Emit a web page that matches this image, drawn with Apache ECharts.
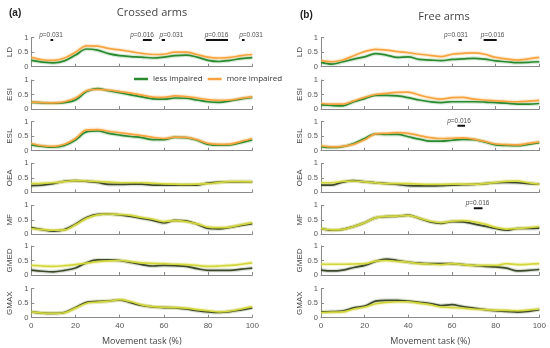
<!DOCTYPE html>
<html>
<head>
<meta charset="utf-8">
<script src="https://cdn.jsdelivr.net/npm/echarts@6/dist/echarts.min.js"></script>
<style>
html,body{margin:0;padding:0;background:#fff;}
#c{width:550px;height:348px;}
</style>
</head>
<body>
<div id="c"></div>
<script>
// ---- data ----
const xPct = [0,5,10,15,20,25,30,35,40,45,50,55,60,65,70,75,80,85,90,95,100];
const xTicks = [0,20,40,60,80,100];
const muscles = ['LD','ESI','ESL','OEA','MF','GMED','GMAX'];
const panelTitles = ['Crossed arms','Free arms'];
const panelTags = ['(a)','(b)'];
const legendNames = ['less impaired','more impaired'];

// (a) Crossed arms
const aLD_less   = [0.22,0.16,0.13,0.20,0.40,0.61,0.57,0.45,0.38,0.35,0.33,0.30,0.33,0.38,0.40,0.33,0.22,0.18,0.22,0.28,0.31];
const aLD_more   = [0.32,0.24,0.22,0.30,0.50,0.72,0.71,0.63,0.58,0.52,0.46,0.42,0.43,0.50,0.50,0.42,0.33,0.30,0.32,0.38,0.42];
const aESI_less  = [0.23,0.21,0.20,0.22,0.31,0.60,0.70,0.63,0.56,0.49,0.42,0.35,0.34,0.38,0.37,0.31,0.25,0.23,0.28,0.35,0.40];
const aESI_more  = [0.24,0.22,0.21,0.25,0.38,0.63,0.68,0.65,0.60,0.55,0.48,0.41,0.40,0.45,0.43,0.38,0.32,0.30,0.31,0.37,0.42];
const aESL_less  = [0.20,0.15,0.12,0.18,0.37,0.65,0.68,0.60,0.54,0.49,0.45,0.38,0.38,0.46,0.45,0.36,0.22,0.19,0.20,0.28,0.37];
const aESL_more  = [0.25,0.17,0.15,0.22,0.42,0.72,0.73,0.67,0.62,0.57,0.52,0.46,0.42,0.47,0.46,0.38,0.25,0.22,0.23,0.32,0.42];
const aOEA_less  = [0.23,0.25,0.30,0.38,0.40,0.38,0.34,0.27,0.27,0.28,0.28,0.25,0.25,0.25,0.25,0.25,0.32,0.35,0.36,0.36,0.36];
const aOEA_more  = [0.30,0.31,0.33,0.37,0.40,0.39,0.37,0.35,0.33,0.33,0.33,0.31,0.29,0.28,0.27,0.28,0.30,0.34,0.37,0.37,0.36];
const aMF_less   = [0.23,0.16,0.11,0.16,0.35,0.58,0.69,0.70,0.67,0.62,0.55,0.48,0.39,0.48,0.46,0.35,0.20,0.19,0.24,0.31,0.37];
const aMF_more   = [0.20,0.16,0.14,0.15,0.33,0.55,0.67,0.70,0.68,0.65,0.58,0.52,0.44,0.47,0.44,0.36,0.25,0.23,0.25,0.33,0.40];
const aGMED_less = [0.17,0.13,0.11,0.16,0.24,0.42,0.52,0.52,0.50,0.43,0.36,0.31,0.33,0.32,0.30,0.22,0.16,0.16,0.16,0.20,0.24];
const aGMED_more = [0.33,0.31,0.30,0.32,0.36,0.41,0.46,0.49,0.50,0.46,0.42,0.40,0.39,0.37,0.36,0.33,0.30,0.31,0.33,0.37,0.42];
const aGMAX_less = [0.20,0.16,0.15,0.18,0.35,0.53,0.56,0.58,0.61,0.52,0.42,0.37,0.35,0.34,0.30,0.24,0.20,0.18,0.21,0.27,0.34];
const aGMAX_more = [0.20,0.16,0.15,0.17,0.33,0.50,0.54,0.57,0.62,0.55,0.44,0.38,0.36,0.35,0.33,0.28,0.24,0.20,0.23,0.30,0.38];

// (b) Free arms
const bLD_less   = [0.15,0.09,0.17,0.26,0.34,0.45,0.40,0.32,0.34,0.25,0.23,0.21,0.25,0.27,0.29,0.26,0.20,0.17,0.14,0.15,0.17];
const bLD_more   = [0.21,0.17,0.23,0.38,0.52,0.60,0.57,0.52,0.48,0.43,0.39,0.35,0.43,0.46,0.48,0.43,0.32,0.27,0.23,0.27,0.32];
const bESI_less  = [0.14,0.12,0.11,0.25,0.36,0.47,0.47,0.45,0.39,0.31,0.25,0.22,0.25,0.25,0.25,0.24,0.22,0.20,0.17,0.17,0.19];
const bESI_more  = [0.19,0.17,0.17,0.28,0.40,0.50,0.54,0.57,0.58,0.48,0.39,0.34,0.39,0.40,0.34,0.31,0.28,0.26,0.25,0.27,0.30];
const bESL_less  = [0.14,0.11,0.14,0.25,0.42,0.58,0.56,0.56,0.48,0.40,0.33,0.33,0.36,0.39,0.38,0.30,0.20,0.18,0.17,0.22,0.28];
const bESL_more  = [0.17,0.13,0.15,0.22,0.38,0.58,0.60,0.62,0.60,0.52,0.45,0.42,0.43,0.44,0.40,0.32,0.23,0.21,0.20,0.25,0.30];
const bOEA_less  = [0.25,0.25,0.35,0.40,0.36,0.33,0.30,0.27,0.23,0.22,0.22,0.23,0.25,0.26,0.27,0.30,0.33,0.34,0.33,0.30,0.28];
const bOEA_more  = [0.33,0.33,0.38,0.39,0.36,0.33,0.30,0.30,0.30,0.28,0.27,0.27,0.28,0.28,0.28,0.30,0.34,0.38,0.39,0.33,0.28];
const bMF_less   = [0.20,0.14,0.17,0.27,0.40,0.57,0.61,0.62,0.66,0.55,0.43,0.38,0.44,0.43,0.36,0.28,0.20,0.14,0.20,0.20,0.21];
const bMF_more   = [0.20,0.15,0.17,0.27,0.40,0.57,0.62,0.63,0.65,0.56,0.45,0.40,0.45,0.47,0.43,0.35,0.24,0.18,0.20,0.23,0.27];
const bGMED_less = [0.17,0.14,0.17,0.26,0.33,0.47,0.55,0.50,0.44,0.41,0.39,0.39,0.39,0.36,0.33,0.30,0.28,0.24,0.14,0.16,0.19];
const bGMED_more = [0.37,0.37,0.37,0.38,0.39,0.48,0.50,0.47,0.44,0.39,0.38,0.36,0.39,0.36,0.33,0.33,0.33,0.39,0.36,0.37,0.39];
const bGMAX_less = [0.20,0.21,0.23,0.34,0.40,0.57,0.60,0.60,0.57,0.53,0.49,0.42,0.45,0.38,0.33,0.28,0.24,0.22,0.19,0.22,0.28];
const bGMAX_more = [0.18,0.19,0.20,0.30,0.37,0.48,0.53,0.55,0.55,0.50,0.45,0.37,0.35,0.33,0.30,0.28,0.26,0.25,0.24,0.26,0.30];

// significance marks: [bar start %, bar end %, p value, label centre %]
const aLD_p   = [[8.7,9.9,'0.031',8.9],[50.5,54.5,'0.016',50.1],[59,60.5,'0.031',63.4],[79,89,'0.016',83.8],[95.3,96.5,'0.031',99.4]];
const bLD_p   = [[63,64.5,'0.031',61.8],[74.5,80.5,'0.016',78.6]];
const bESL_p  = [[62.5,66,'0.016',63.2]];
const bMF_p   = [[70,74,'0.016',71.7]];
const pBarLevel = {aLD:0.92, bLD:0.92, bESL:0.86, bMF:0.9};

// ---- build ----
const dataA = {LD:[aLD_less,aLD_more],ESI:[aESI_less,aESI_more],ESL:[aESL_less,aESL_more],OEA:[aOEA_less,aOEA_more],MF:[aMF_less,aMF_more],GMED:[aGMED_less,aGMED_more],GMAX:[aGMAX_less,aGMAX_more]};
const dataB = {LD:[bLD_less,bLD_more],ESI:[bESI_less,bESI_more],ESL:[bESL_less,bESL_more],OEA:[bOEA_less,bOEA_more],MF:[bMF_less,bMF_more],GMED:[bGMED_less,bGMED_more],GMAX:[bGMAX_less,bGMAX_more]};
const pMarks = {a:{LD:aLD_p}, b:{LD:bLD_p, ESL:bESL_p, MF:bMF_p}};

const rowBottoms = [66.7,109,150.7,192.3,234.3,275,317.7];
const rowH = 29;
const panelLeft = [31.3,321];
const panelWidth = [221,218.3];

const colsTop = ['#2a8a2f','#f7a440'];
const haloTop = ['rgba(70,160,70,0.22)','rgba(250,185,100,0.28)'];
const colsBot = ['#3c4a2c','#d3d63a'];
const haloBot = ['rgba(90,110,70,0.22)','rgba(225,228,100,0.35)'];

const axisFont = 'Liberation Sans, Arial, sans-serif';
const titleFont = 'Open Sans, Liberation Sans, sans-serif';

const grids=[], xAxes=[], yAxes=[], series=[];
let gi=0;
[dataA,dataB].forEach((D,p)=>{
  muscles.forEach((m,r)=>{
    const last = r===muscles.length-1;
    grids.push({left:panelLeft[p], width:panelWidth[p], top:rowBottoms[r]-rowH, height:rowH});
    xAxes.push({type:'value', gridIndex:gi, min:0, max:100, interval:20,
      axisLine:{lineStyle:{color:'#8a8a8a',width:1}},
      axisTick:{show:true, inside:true, length:3, lineStyle:{color:'#8a8a8a'}},
      axisLabel:{show:last, fontSize:8, color:'#555', margin:4, fontFamily:axisFont},
      splitLine:{show:false},
      name: last ? 'Movement task (%)' : '', nameLocation:'middle', nameGap:19,
      nameTextStyle:{fontSize:9, color:'#444', fontFamily:titleFont}});
    yAxes.push({type:'value', gridIndex:gi, min:0, max:1, interval:0.5,
      axisLine:{show:true, lineStyle:{color:'#8a8a8a',width:1}},
      axisTick:{show:true, inside:true, length:3, lineStyle:{color:'#8a8a8a'}},
      axisLabel:{fontSize:7.5, color:'#555', margin:3, fontFamily:axisFont},
      splitLine:{show:false},
      name:m, nameLocation:'middle', nameRotate:90, nameGap:16,
      nameTextStyle:{fontSize:8, color:'#444', fontFamily:axisFont}});
    const isTop = r<3;
    D[m].forEach((vals,k)=>{
      const pts = xPct.map((x,i)=>[x,vals[i]]);
      const halo = isTop ? haloTop[k] : haloBot[k];
      series.push({type:'line', xAxisIndex:gi, yAxisIndex:gi, data:pts, smooth:0.35, showSymbol:false,
        silent:true, lineStyle:{width:4, color:halo}, itemStyle:{color:halo}, z:2});
    });
    D[m].forEach((vals,k)=>{
      const pts = xPct.map((x,i)=>[x,vals[i]]);
      const col = isTop ? colsTop[k] : colsBot[k];
      series.push({type:'line', xAxisIndex:gi, yAxisIndex:gi, data:pts, smooth:0.35, showSymbol:false,
        name: isTop ? legendNames[k] : (m+k), lineStyle:{width:1.7, color:col}, itemStyle:{color:col}, z:3});
    });
    const key = p===0?'a':'b';
    const marks = pMarks[key][m];
    if (marks){
      const lvl = pBarLevel[key+m];
      marks.forEach(([s,e,pv,tc])=>{
        series.push({type:'line', xAxisIndex:gi, yAxisIndex:gi, data:[[s,lvl],[e,lvl]], showSymbol:false,
          lineStyle:{width:2, color:'#111'}, z:5, silent:true});
        series.push({type:'scatter', xAxisIndex:gi, yAxisIndex:gi, data:[[tc,lvl]], symbolSize:0, clip:false, z:5, silent:true,
          label:{show:true, position:'top', distance:1.5, formatter:'{i|p}{n|=' + pv + '}',
            rich:{i:{fontStyle:'italic', fontSize:6.5, color:'#222', fontFamily:axisFont}, n:{fontSize:6.5, color:'#222', fontFamily:axisFont}}}});
      });
    }
    gi++;
  });
});

const chart = echarts.init(document.getElementById('c'), null, {renderer:'canvas'});
chart.setOption({
  animation:false,
  backgroundColor:'#fff',
  grid:grids, xAxis:xAxes, yAxis:yAxes, series:series,
  legend:{data:legendNames, left:134, top:75, itemWidth:14, itemHeight:2.5, itemGap:5, icon:'rect',
    textStyle:{fontSize:8, color:'#333', fontFamily:titleFont}, padding:0},
  title:[
    {text:panelTags[0], left:4, top:3, textStyle:{fontSize:10, fontWeight:'bold', color:'#222', fontFamily:axisFont}},
    {text:panelTitles[0], left:147, top:2, textAlign:'center', textStyle:{fontSize:11, fontWeight:'normal', color:'#444', fontFamily:titleFont}},
    {text:panelTags[1], left:295, top:5, textStyle:{fontSize:10, fontWeight:'bold', color:'#222', fontFamily:axisFont}},
    {text:panelTitles[1], left:439, top:6, textAlign:'center', textStyle:{fontSize:11, fontWeight:'normal', color:'#444', fontFamily:titleFont}}
  ]
});
</script>
</body>
</html>
